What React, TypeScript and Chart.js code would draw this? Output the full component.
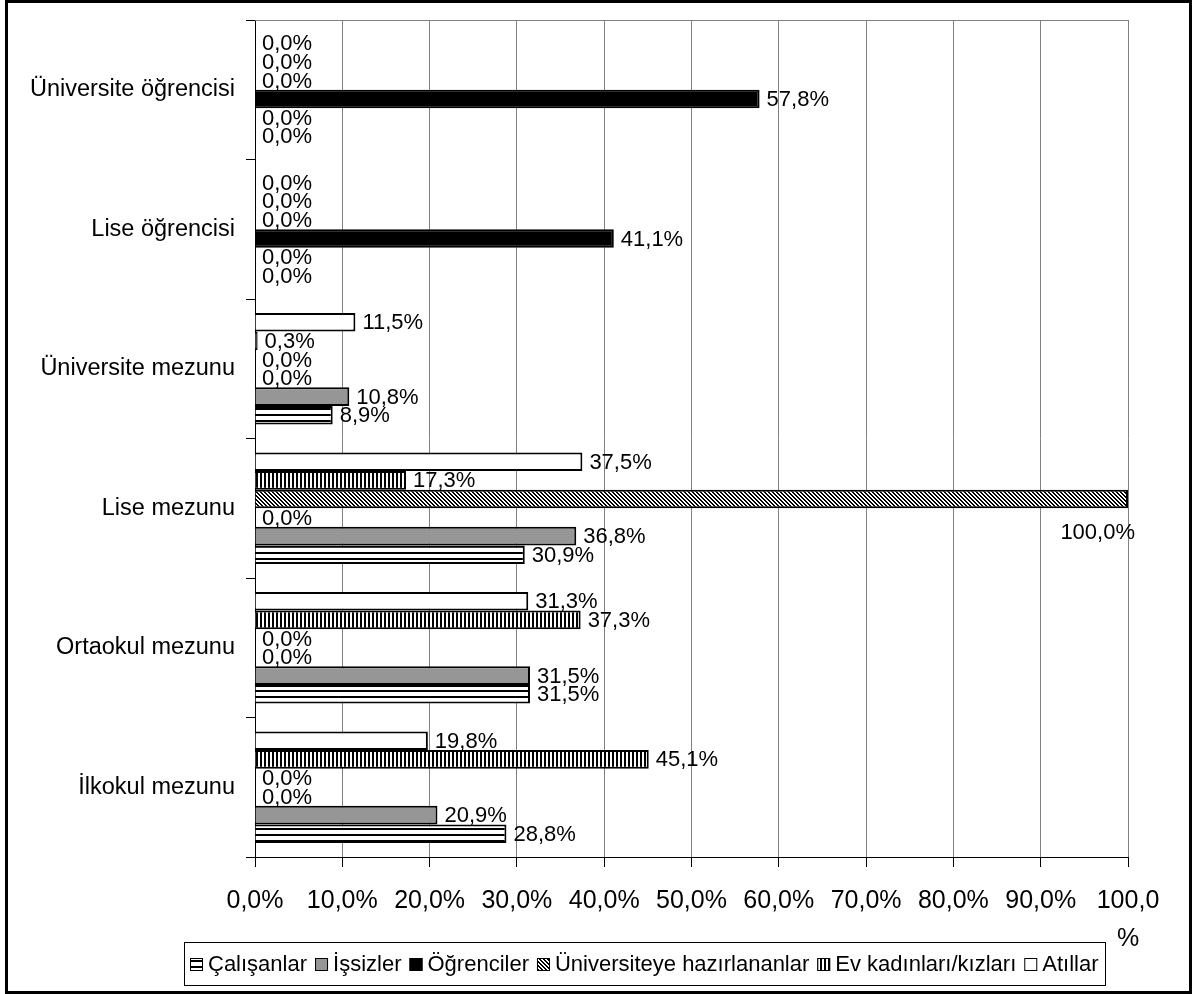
import React, { useEffect, useRef } from "react";
import { Chart, registerables } from "chart.js";

Chart.register(...registerables);

// ---- Data (bottom-to-top category order as in the source chart) ----
const categories = [
  "İlkokul mezunu",
  "Ortaokul mezunu",
  "Lise mezunu",
  "Üniversite mezunu",
  "Lise öğrencisi",
  "Üniversite öğrencisi",
];
const seriesNames = [
  "Çalışanlar",
  "İşsizler",
  "Öğrenciler",
  "Üniversiteye hazırlananlar",
  "Ev kadınları/kızları",
  "Atıllar",
];
const calisanlar = [28.8, 31.5, 30.9, 8.9, 0.0, 0.0];
const issizler = [20.9, 31.5, 36.8, 10.8, 0.0, 0.0];
const ogrenciler = [0.0, 0.0, 0.0, 0.0, 41.1, 57.8];
const universiteyeHazirlananlar = [0.0, 0.0, 100.0, 0.0, 0.0, 0.0];
const evKadinlari = [45.1, 37.3, 17.3, 0.3, 0.0, 0.0];
const atillar = [19.8, 31.3, 37.5, 11.5, 0.0, 0.0];
const xTickLabels: (string | string[])[] = [
  "0,0%",
  "10,0%",
  "20,0%",
  "30,0%",
  "40,0%",
  "50,0%",
  "60,0%",
  "70,0%",
  "80,0%",
  "90,0%",
  ["100,0", "%"],
];

const FONT = "'Liberation Sans', Arial, sans-serif";

function makePattern(kind: string): CanvasPattern | string {
  const c = document.createElement("canvas");
  const g = c.getContext("2d");
  if (!g) return "#fff";
  if (kind === "hstripe") {
    c.width = 6;
    c.height = 6;
    g.fillStyle = "#fff";
    g.fillRect(0, 0, 6, 6);
    g.fillStyle = "#000";
    g.fillRect(0, 0, 6, 2);
  } else if (kind === "vstripe") {
    c.width = 4;
    c.height = 4;
    g.fillStyle = "#fff";
    g.fillRect(0, 0, 4, 4);
    g.fillStyle = "#000";
    g.fillRect(0, 0, 2, 4);
  } else if (kind === "diag") {
    c.width = 4;
    c.height = 4;
    g.fillStyle = "#fff";
    g.fillRect(0, 0, 4, 4);
    g.fillStyle = "#000";
    for (let i = 0; i < 4; i++) {
      g.fillRect(i, i, 1, 1);
      g.fillRect((i + 1) % 4, i, 1, 1);
    }
  }
  return g.createPattern(c, "repeat") || "#fff";
}

function fmt(v: number): string {
  return v.toFixed(1).replace(".", ",") + "%";
}

export default function App() {
  const ref = useRef<HTMLCanvasElement | null>(null);

  useEffect(() => {
    const canvas = ref.current;
    if (!canvas) return;

    const fills: (CanvasPattern | string)[] = [
      makePattern("hstripe"),
      "#969696",
      "#000000",
      makePattern("diag"),
      makePattern("vstripe"),
      "#ffffff",
    ];
    const seriesData = [
      calisanlar,
      issizler,
      ogrenciler,
      universiteyeHazirlananlar,
      evKadinlari,
      atillar,
    ];

    // Chart.js draws first label / first dataset at top; reverse both
    const labels = [...categories].reverse();
    const datasets = seriesNames
      .map((name, i) => ({
        label: name,
        data: [...seriesData[i]].reverse(),
        backgroundColor: fills[i],
        borderColor: "#000",
        borderWidth: 2,
        categoryPercentage: 0.8,
        barPercentage: 1.0,
      }))
      .reverse();

    const valueLabels = {
      id: "valueLabels",
      afterDatasetsDraw(chart: any) {
        const ctx = chart.ctx;
        const area = chart.chartArea;
        ctx.save();
        ctx.font = `22px ${FONT}`;
        ctx.fillStyle = "#000";
        ctx.textBaseline = "middle";
        chart.data.datasets.forEach((ds: any, di: number) => {
          const meta = chart.getDatasetMeta(di);
          meta.data.forEach((bar: any, j: number) => {
            const v = ds.data[j];
            const txt = fmt(v);
            const w = ctx.measureText(txt).width;
            let x = bar.x + 7;
            let y = bar.y + 1;
            if (x + w > chart.width - 10) {
              ctx.textAlign = "right";
              x = area.right + 7;
              y = bar.y + 34;
            } else {
              ctx.textAlign = "left";
            }
            ctx.fillText(txt, x, y);
          });
        });
        ctx.restore();
      },
    };

    const frame = {
      id: "frame",
      afterDraw(chart: any) {
        const ctx = chart.ctx;
        const a = chart.chartArea;
        ctx.save();
        // top plot border (gray)
        ctx.strokeStyle = "#808080";
        ctx.lineWidth = 1;
        ctx.beginPath();
        ctx.moveTo(a.left, a.top + 0.5);
        ctx.lineTo(a.right, a.top + 0.5);
        ctx.stroke();
        // legend
        ctx.font = `22px ${FONT}`;
        ctx.textBaseline = "middle";
        ctx.textAlign = "left";
        const marker = 13;
        const gap1 = 5;
        const gap2 = 8;
        const pad = 6;
        const widths = seriesNames.map((n) => ctx.measureText(n).width);
        const total =
          widths.reduce((s, w) => s + marker + gap1 + w, 0) +
          gap2 * (seriesNames.length - 1);
        const boxW = Math.round(total + pad * 2);
        const cx = 644;
        const top = 942;
        const h = 43;
        const left = Math.round(cx - boxW / 2);
        ctx.strokeStyle = "#000";
        ctx.lineWidth = 1;
        ctx.strokeRect(left + 0.5, top + 0.5, boxW, h);
        let x = left + pad;
        const cy = top + h / 2 + 1;
        seriesNames.forEach((n, i) => {
          const my = Math.round(cy - marker / 2);
          ctx.fillStyle = fills[i] as any;
          ctx.fillRect(x, my, marker, marker);
          ctx.strokeStyle = "#000";
          ctx.lineWidth = 1;
          ctx.strokeRect(x + 0.5, my + 0.5, marker - 1, marker - 1);
          x += marker + gap1;
          ctx.fillStyle = "#000";
          ctx.fillText(n, x, cy);
          x += widths[i] + gap2;
        });
        ctx.restore();
      },
    };

    const chart = new Chart(canvas, {
      type: "bar",
      data: { labels, datasets: datasets as any },
      options: {
        indexAxis: "y",
        animation: false,
        responsive: false,
        devicePixelRatio: 1,
        layout: { padding: { top: 20, right: 64, bottom: 0, left: 0 } },
        font: { family: FONT },
        plugins: {
          legend: { display: false },
          tooltip: { enabled: false },
        },
        scales: {
          x: {
            type: "linear",
            min: 0,
            max: 100,
            afterFit(scale: any) {
              scale.height = 137;
              scale.paddingLeft = 0;
              scale.paddingRight = 0;
            },
            ticks: {
              stepSize: 10,
              autoSkip: false,
              maxRotation: 0,
              minRotation: 0,
              padding: 15,
              color: "#000",
              font: { size: 25, family: FONT, lineHeight: 1.52 },
              callback: (_v: any, i: number) => xTickLabels[i],
            },
            grid: {
              color: (c: any) => (c.index === 0 ? "#000" : "#808080"),
              tickColor: "#000",
              tickLength: 10,
              lineWidth: 1,
            },
            border: { display: true, color: "#000", width: 1 },
          },
          y: {
            type: "category",
            afterFit(scale: any) {
              scale.width = 255;
              scale.paddingTop = 0;
              scale.paddingBottom = 0;
            },
            ticks: {
              color: "#000",
              padding: 11,
              font: { size: 23.5, family: FONT },
            },
            grid: {
              offset: true,
              drawOnChartArea: false,
              drawTicks: true,
              tickLength: 9,
              tickColor: "#000",
              color: "#000",
            },
            border: { display: true, color: "#000", width: 1 },
          },
        },
      } as any,
      plugins: [valueLabels, frame],
    });

    return () => chart.destroy();
  }, []);

  return (
    <div
      style={{
        position: "absolute",
        left: 0,
        top: 0,
        width: 1192,
        height: 994,
        background: "#fff",
      }}
    >
      <canvas ref={ref} width={1192} height={994} style={{ display: "block" }} />
      <div
        style={{
          position: "absolute",
          left: 5,
          top: 0,
          width: 1187,
          height: 994,
          border: "3px solid #000",
          boxSizing: "border-box",
          pointerEvents: "none",
        }}
      />
    </div>
  );
}
